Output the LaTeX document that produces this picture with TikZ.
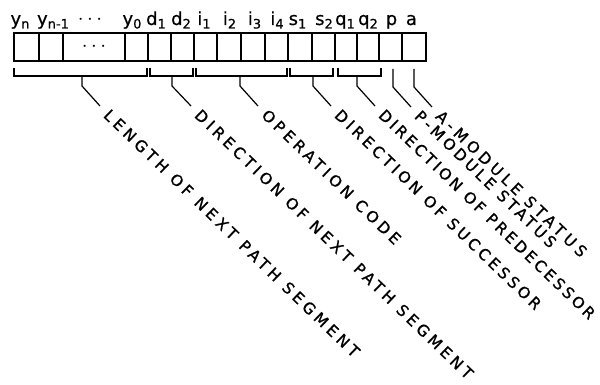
\documentclass[tikz,border=0pt]{standalone}
\usepackage{fontspec}
\setmainfont{DejaVu Sans}
\newfontfamily\lblfont[LetterSpace=23,FakeBold=1]{DejaVu Sans}
\newfontfamily\topfont[FakeBold=0.6]{DejaVu Sans}
\usetikzlibrary{calc}
\newcommand\subs[1]{\raisebox{-3.5pt}{\fontsize{13}{13}\selectfont #1}}
\newcommand\ls[1]{\addfontfeature{LetterSpace=#1}}
\begin{document}
\begin{tikzpicture}[x=1pt,y=-1pt,
  cell/.style={draw, line width=1.3pt, minimum height=28pt, inner sep=0pt, outer sep=0pt},
  toplbl/.style={font=\topfont\fontsize{18}{18}\selectfont, anchor=base, inner sep=0pt},
  brk/.style={line width=1.2pt},
  dotstyle/.style={font=\fontsize{20}{20}\selectfont, inner sep=0pt},
  desc/.style={font=\lblfont\fontsize{15.5}{15.5}\selectfont, rotate=-44, anchor=west, inner sep=0pt}]
\useasboundingbox (0,0) rectangle (600,385);
\foreach \n/\l/\r/\c/\t in {yn/14/39/20/{y\subs{n}}, ym/39/63/53/{y\subs{n-1}}, y0/125/148/132/{y\subs{0}}, d1/148/171/156/{d\subs{1}}, d2/171/194/181/{d\subs{2}}, i1/194/217/204/{i\subs{1}}, i2/217/241/229.5/{i\subs{2}}, i3/241/265/254.5/{i\subs{3}}, i4/265/288/277/{i\subs{4}}, s1/288/312/297.5/{s\subs{1}}, s2/312/335/324/{s\subs{2}}, q1/335/357/345/{q\subs{1}}, q2/357/379/368/{q\subs{2}}, p/379/402/391.5/{p}, a/402/426/411.5/{a}}{
  \node[cell, minimum width={(\r-\l)*1pt}] (\n) at ({(\l+\r)/2},47) {};
  \node[toplbl] (t\n) at (\c,25) {\t};
}
\node[cell, minimum width=62pt] (dots) at (94,47) {};
\node[dotstyle] (dotsin) at (dots.center) {$\cdots$};
\node[dotstyle] (tdots) at (90,20) {$\cdots$};
\draw[line width=1.9pt] (yn.north west) rectangle (a.south east);
% leader ends
\coordinate (elen) at (100,106);
\coordinate (edir) at (191,106);
\coordinate (eop)  at (258,106);
\coordinate (esuc) at (331,106);
\coordinate (epre) at (375,106);
\coordinate (ep)   at (411,107);
\coordinate (ea)   at (432,107);
% descriptions
\node[desc] (dlen) at ($(elen)+(-44:9pt)$) {\ls{26}LENGTH OF NEXT PATH SEGMENT};
\node[desc] (ddir) at ($(edir)+(-44:9pt)$) {\ls{25}DIRECTION OF NEXT PATH SEGMENT};
\node[desc] (dop)  at ($(eop)+(-44:9pt)$)  {\ls{25.5}OPERATION CODE};
\node[desc] (dsuc) at ($(esuc)+(-44:9pt)$) {\ls{23}DIRECTION OF SUCCESSOR};
\node[desc] (dpre) at ($(epre)+(-44:9pt)$) {\ls{19}DIRECTION OF PREDECESSOR};
\node[desc] (dp)   at ($(ep)+(-44:9pt)$)   {\ls{22}P-MODULE STATUS};
\node[desc] (da)   at ($(ea)+(-44:9pt)$)   {\ls{28}A-MODULE STATUS};
% brackets and leaders
\draw[brk] (14,68) |- (147,76) -- (147,68);
\draw[brk] (82,76) -- (82,86) -- (elen);
\draw[brk] (150,68) |- (193,76) -- (193,68);
\draw[brk] (172,76) -- (172,86) -- (edir);
\draw[brk] (196,68) |- (287,76) -- (287,68);
\draw[brk] (240,76) -- (240,86) -- (eop);
\draw[brk] (290,68) |- (333,76) -- (333,68);
\draw[brk] (313,76) -- (313,86) -- (esuc);
\draw[brk] (338,68) |- (381,76) -- (381,68);
\draw[brk] (357,76) -- (357,86) -- (epre);
\draw[brk] (393,69) -- (393,87) -- (ep);
\draw[brk] (414,69) -- (414,87) -- (ea);
\end{tikzpicture}
\end{document}
